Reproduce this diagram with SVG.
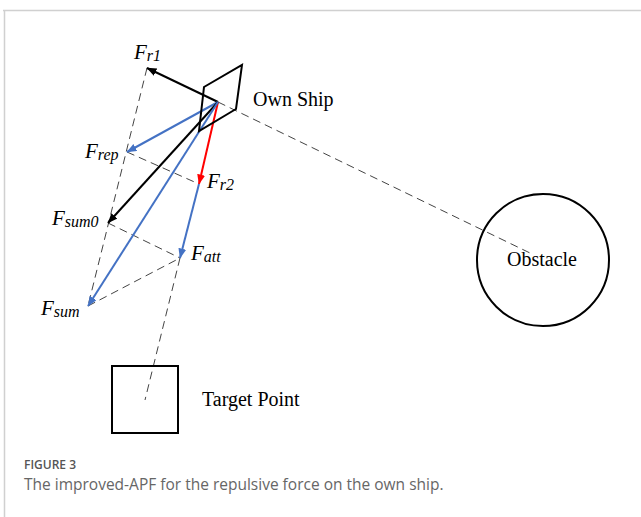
<svg xmlns="http://www.w3.org/2000/svg" width="641" height="517" viewBox="0 0 641 517">
<style>
.frame{stroke:#d0d0d0;stroke-width:1.5;fill:none}
.dash{stroke:#444;stroke-width:1;stroke-dasharray:8 5;fill:none}
.arr{stroke-width:2;fill:none}
.blk{stroke:#000}
.blu{stroke:#4472C4}
.red{stroke:#FF0000}
.shape{stroke:#000;stroke-width:2;fill:none}
.lbl{font-family:"Liberation Serif",serif;font-size:20px;fill:#000}
.f{font-family:"Liberation Serif",serif;font-style:italic;font-size:21px;fill:#000}
.sub{font-size:16px}
.cap1{font-family:"Open Sans","Noto Sans",sans-serif;font-weight:600;font-size:12px;fill:#555}
.cap2{font-family:"Open Sans","Noto Sans",sans-serif;font-size:15.5px;fill:#666}
</style>
<defs>
<marker id="ab" markerUnits="userSpaceOnUse" markerWidth="11" markerHeight="9" refX="9.5" refY="4" orient="auto"><path d="M0,0 L10,4 L0,8 Z" fill="#000"/></marker>
<marker id="au" markerUnits="userSpaceOnUse" markerWidth="11" markerHeight="9" refX="9.5" refY="4" orient="auto"><path d="M0,0 L10,4 L0,8 Z" fill="#4472C4"/></marker>
<marker id="ar" markerUnits="userSpaceOnUse" markerWidth="11" markerHeight="9" refX="9.5" refY="4" orient="auto"><path d="M0,0 L10,4 L0,8 Z" fill="#FF0000"/></marker>
</defs>
<path class="frame" d="M3,10.5 H641 M4.5,10 V517"/>
<g id="connectors">
<line class="dash" x1="218" y1="102" x2="530" y2="253"/>
<line class="dash" x1="147" y1="68" x2="88" y2="306"/>
<line class="dash" x1="127" y1="152" x2="199" y2="184"/>
<line class="dash" x1="108" y1="223" x2="180" y2="258"/>
<line class="dash" x1="88" y1="306" x2="180" y2="258"/>
<line class="dash" x1="180" y1="258" x2="145" y2="400"/>
<line class="arr blk" x1="218" y1="102" x2="147" y2="68" marker-end="url(#ab)"/>
<line class="arr blu" x1="218" y1="102" x2="127" y2="152" marker-end="url(#au)"/>
<line class="arr red" x1="218" y1="102" x2="199" y2="184" marker-end="url(#ar)"/>
<line class="arr blk" x1="218" y1="102" x2="108" y2="223" marker-end="url(#ab)"/>
<line class="arr blu" x1="218" y1="102" x2="88" y2="306" marker-end="url(#au)"/>
<line class="arr blu" x1="199" y1="184" x2="180" y2="258" marker-end="url(#au)"/>
</g>
<g id="ownship">
<polygon class="shape" points="204,87 242,65 236,109 199,131"/>
<text class="lbl" x="253" y="106">Own Ship</text>
</g>
<g id="obstacle">
<circle class="shape" cx="543" cy="260" r="66"/>
<text class="lbl" x="507" y="266">Obstacle</text>
</g>
<g id="target">
<rect class="shape" x="112" y="366" width="66" height="67"/>
<text class="lbl" x="202" y="406">Target Point</text>
</g>
<g id="labels">
<text class="f" x="134" y="59">F<tspan class="sub" dy="2">r1</tspan></text>
<text class="f" x="85" y="158">F<tspan class="sub" dy="2">rep</tspan></text>
<text class="f" x="207" y="188">F<tspan class="sub" dy="2">r2</tspan></text>
<text class="f" x="52" y="225">F<tspan class="sub" dy="2">sum0</tspan></text>
<text class="f" x="191" y="260">F<tspan class="sub" dy="2">att</tspan></text>
<text class="f" x="41" y="315">F<tspan class="sub" dy="2">sum</tspan></text>
</g>
<g id="caption">
<text class="cap1" x="24" y="468.5">FIGURE 3</text>
<text class="cap2" x="24" y="490">The improved-APF for the repulsive force on the own ship.</text>
</g>
</svg>
